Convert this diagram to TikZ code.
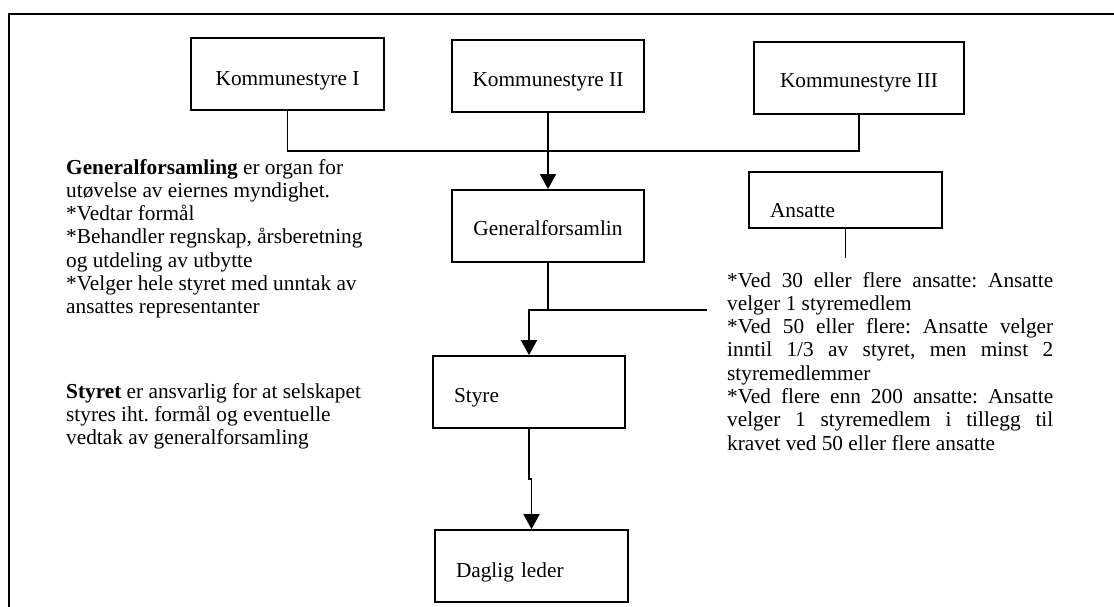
\documentclass[tikz,border=0pt]{standalone}
\usepackage{fontspec}
\setmainfont{Liberation Serif}
\usetikzlibrary{arrows.meta}
\frenchspacing
\newcommand\orgfont{\fontsize{21.3pt}{23.3pt}\selectfont\frenchspacing}
\newcommand\jline[1]{\makebox[326pt][s]{#1}}
\begin{document}
\begin{tikzpicture}[x=1pt,y=-1pt,
  frame/.style={line width=2.2pt},
  box/.style={draw, line width=1.8pt, minimum height=72pt, inner ysep=0pt,
    text depth=0pt, font=\orgfont, align=center},
  lbox/.style={box, align=left, inner xsep=21pt},
  conn/.style={line width=1.8pt},
  tip/.style={conn, -{Triangle[length=15pt,width=16pt]}},
  txt/.style={inner sep=0pt, font=\orgfont, anchor=base west}
]
\useasboundingbox (0,0) rectangle (1114,606);
\clip (0,0) rectangle (1114,606);
\fill[white] (0,0) rectangle (1114,606);

% outer frame (runs past the page on the right and bottom)
\draw[frame] (9,630) |- (1140,14);

% owners
\node[box, minimum width=193pt, text height=22pt] (k1) at (287.5,74) {Kommunestyre I};
\node[box, minimum width=192pt, text height=20pt] (k2) at (548,76) {Kommunestyre II};
\node[box, minimum width=210pt, text height=18pt] (k3) at (859,78) {Kommunestyre III};

% organisation
\node[box, minimum width=192pt, text height=18pt] (gen) at (548,226) {Generalforsamlin};
\node[lbox, text width=151pt, minimum height=56pt, text height=34pt] (ans) at (845.5,200) {Ansatte};
\node[lbox, text width=150pt, text height=20pt] (styre) at (529,392) {Styre};
\node[lbox, text width=151pt, text height=22pt] (leder) at (531.5,566) {Daglig leder};

% junction points
\coordinate (hb) at (548,151);
\coordinate (jR) at (707,310);
\coordinate (ansEnd) at (845.5,258);

% connectors
\draw[conn] (k1.south) -- (k1.south |- hb) -| (k3.south);
\draw[tip] (k2.south) -- (gen.north);
\draw[conn] (gen.south) -- (gen.south |- jR);
\draw[tip] (jR) -| (styre.north);
\draw[tip] (styre.south) -- ++(0,50) -| (leder.north);
\draw[conn] (ans.south) -- (ansEnd);

% explanatory texts
\node[txt] (gtext) at (66,174) {\parbox[t]{330pt}{\raggedright
  \textbf{Generalforsamling} er organ for\\
  utøvelse av eiernes myndighet.\\
  {*}Vedtar formål\\
  {*}Behandler regnskap, årsberetning\\
  og utdeling av utbytte\\
  {*}Velger hele styret med unntak av\\
  ansattes representanter}};

\node[txt] (stext) at (66,398) {\parbox[t]{330pt}{\raggedright
  \textbf{Styret} er ansvarlig for at selskapet\\
  styres iht. formål og eventuelle\\
  vedtak av generalforsamling}};

\node[txt] (atext) at (727,287) {\parbox[t]{326pt}{%
  \jline{*Ved 30 eller flere ansatte: Ansatte}\\
  velger 1 styremedlem\\
  \jline{*Ved 50 eller flere: Ansatte velger}\\
  \jline{inntil 1/3 av styret, men minst 2}\\
  styremedlemmer\\
  \jline{*Ved flere enn 200 ansatte: Ansatte}\\
  \jline{velger 1 styremedlem i tillegg til}\\
  kravet ved 50 eller flere ansatte}};
\end{tikzpicture}
\end{document}
